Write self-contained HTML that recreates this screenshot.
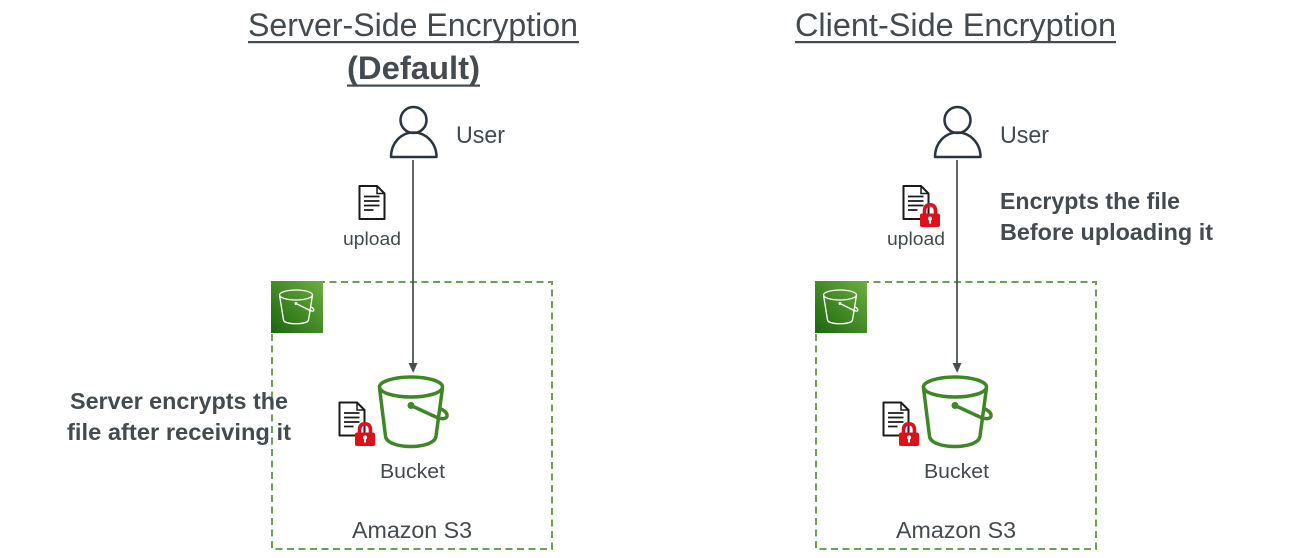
<!DOCTYPE html>
<html><head><meta charset="utf-8">
<style>
html,body{margin:0;padding:0;background:#fff;width:1293px;height:558px;overflow:hidden}
svg{display:block}
text{font-family:"Liberation Sans",sans-serif;fill:#434a50}
.b{font-weight:bold}
</style></head>
<body>
<svg width="1293" height="558" viewBox="0 0 1293 558" xmlns="http://www.w3.org/2000/svg">
<defs>
<linearGradient id="g" x1="0" y1="1" x2="1" y2="0">
<stop offset="0" stop-color="#1b660f"/><stop offset="1" stop-color="#6cae3e"/>
</linearGradient>
<g id="doc">
<path d="M1 1H18.500L26 8.500V34H1Z" fill="#fff" stroke="#1a1a1a" stroke-width="2" stroke-linejoin="round"/>
<path d="M18.500 1V8.500H26" fill="none" stroke="#1a1a1a" stroke-width="1.500"/>
<path d="M5.500 11.500H21M5.500 16H21M5.500 20.500H21M5.500 25H15" stroke="#1a1a1a" stroke-width="1.800" fill="none"/>
</g>
<g id="lock">
<path d="M4.500 12V8C4.500 3.800 6.500 1.800 10 1.800C13.500 1.800 15.500 3.800 15.500 8V12" fill="none" stroke="#e0101a" stroke-width="3.600"/>
<rect x="0" y="10.500" width="20" height="13.500" rx="2" fill="#e0101a"/>
<circle cx="10" cy="15.500" r="2" fill="#fff"/><rect x="9" y="16" width="2" height="4.500" fill="#fff"/>
</g>
<g id="panel">
<rect x="272" y="282" width="280" height="267" fill="none" stroke="#6aa253" stroke-width="2" stroke-dasharray="7 4.500"/>
<rect x="271" y="281" width="52" height="52" fill="url(#g)"/>
<g fill="none" stroke="#fff" stroke-width="1.300">
<ellipse cx="296" cy="295" rx="16.500" ry="5"/>
<path d="M279.500 295L283.500 320C284 325 308 325 308.500 320L312.500 295"/>
<path d="M296 303.500L310 310.500C315 312.500 315 309 311 307"/>
</g>
<circle cx="296" cy="303.500" r="1.500" fill="#fff"/>
<g fill="none" stroke="#3f8624" stroke-width="3.500">
<ellipse cx="411" cy="387" rx="31.500" ry="10"/>
<path d="M379.500 388L385.500 436C386.500 450 435 450 436 436L442.500 388"/>
<path d="M411 405.500L438 418C449 421 450 413 441 409"/>
</g>
<circle cx="411" cy="405.500" r="3.500" fill="#3f8624"/>
<use href="#doc" x="338.500" y="401.500"/>
<use href="#lock" x="355" y="422"/>
<g fill="none" stroke="#2a3542" stroke-width="2.500">
<circle cx="413.500" cy="120" r="13"/>
<path d="M391 157C391 143 401 132.500 413.500 132.500C426 132.500 436.500 143 436.500 157Z" stroke-linejoin="round"/>
</g>
<line x1="413" y1="160" x2="413" y2="364" stroke="#4f555b" stroke-width="1.800"/>
<path d="M408.500 363H417.500L413.200 373Z" fill="#4a4f54"/>
<text x="456" y="143" font-size="24" textLength="49" lengthAdjust="spacingAndGlyphs">User</text>
<text x="343" y="245" font-size="18" textLength="58" lengthAdjust="spacingAndGlyphs">upload</text>
<text x="380" y="478" font-size="20" textLength="65" lengthAdjust="spacingAndGlyphs">Bucket</text>
<text x="352" y="538" font-size="23" textLength="120" lengthAdjust="spacingAndGlyphs">Amazon S3</text>
</g>
</defs>

<use href="#panel"/>
<use href="#panel" x="544"/>

<use href="#doc" x="358.500" y="185"/>
<use href="#doc" x="902.500" y="185"/>
<use href="#lock" x="920" y="203"/>

<text x="248" y="36" font-size="32" textLength="330" lengthAdjust="spacingAndGlyphs">Server-Side Encryption</text>
<rect x="248" y="41" width="331" height="2.200" fill="#434a50"/>
<text class="b" x="347" y="79" font-size="32" textLength="133" lengthAdjust="spacingAndGlyphs">(Default)</text>
<rect x="347" y="84.500" width="133" height="2.200" fill="#434a50"/>
<text x="795" y="36" font-size="32" textLength="321" lengthAdjust="spacingAndGlyphs">Client-Side Encryption</text>
<rect x="795" y="41" width="321" height="2.200" fill="#434a50"/>

<text class="b" x="70" y="409" font-size="23" textLength="218" lengthAdjust="spacingAndGlyphs">Server encrypts the</text>
<text class="b" x="67" y="440" font-size="23" textLength="224" lengthAdjust="spacingAndGlyphs">file after receiving it</text>
<text class="b" x="1000" y="209" font-size="23" textLength="180" lengthAdjust="spacingAndGlyphs">Encrypts the file</text>
<text class="b" x="1000" y="240" font-size="23" textLength="213" lengthAdjust="spacingAndGlyphs">Before uploading it</text>
</svg>
</body></html>
